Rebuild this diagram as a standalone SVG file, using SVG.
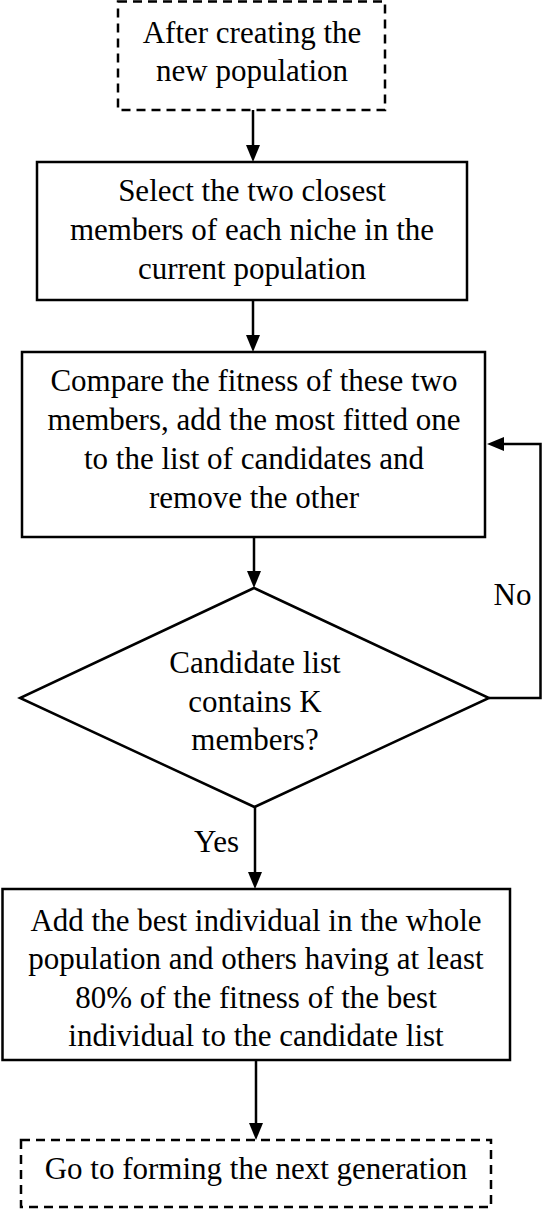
<svg xmlns="http://www.w3.org/2000/svg" width="543" height="1209" viewBox="0 0 543 1209">
<style>
.box{fill:#fff;stroke:#000;stroke-width:2.5}
.dash{fill:#fff;stroke:#000;stroke-width:2.5;stroke-dasharray:9 6}
.t{font-family:"Liberation Serif","Times New Roman",serif;font-size:31px;fill:#000;text-anchor:middle}
.c{fill:none;stroke:#000;stroke-width:2.5}
</style>
<defs>
<marker id="ah" markerUnits="userSpaceOnUse" markerWidth="17" markerHeight="14" refX="8" refY="7" orient="auto">
<path d="M0,0 L17,7 L0,14 Z" fill="#000"/>
</marker>
</defs>
<rect width="543" height="1209" fill="#fff"/>
<g id="connectors">
<line class="c" x1="253" y1="110" x2="253" y2="153" marker-end="url(#ah)"/>
<line class="c" x1="253" y1="300" x2="253" y2="343" marker-end="url(#ah)"/>
<line class="c" x1="254" y1="537" x2="254" y2="579" marker-end="url(#ah)"/>
<line class="c" x1="255" y1="807" x2="255" y2="880" marker-end="url(#ah)"/>
<line class="c" x1="256" y1="1060" x2="256" y2="1131" marker-end="url(#ah)"/>
<polyline class="c" points="489,698 540.5,698 540.5,444 496,444" marker-end="url(#ah)"/>
<text class="t" x="512.5" y="605">No</text>
<text class="t" x="216.5" y="852">Yes</text>
</g>
<g id="start">
<rect class="dash" x="118" y="1.5" width="267" height="108.5"/>
<text class="t" x="252" y="43">After creating the</text>
<text class="t" x="252" y="81">new population</text>
</g>
<g id="select">
<rect class="box" x="37" y="162" width="430" height="138"/>
<text class="t" x="252" y="201">Select the two closest</text>
<text class="t" x="252" y="240">members of each niche in the</text>
<text class="t" x="252" y="279">current population</text>
</g>
<g id="compare">
<rect class="box" x="22" y="352" width="463" height="185"/>
<text class="t" x="254" y="391">Compare the fitness of these two</text>
<text class="t" x="254" y="430">members, add the most fitted one</text>
<text class="t" x="254" y="469">to the list of candidates and</text>
<text class="t" x="254" y="508">remove the other</text>
</g>
<g id="decision">
<polygon class="box" points="254,588 489,698 254.5,807 20,698"/>
<text class="t" x="255" y="673">Candidate list</text>
<text class="t" x="255" y="711.5">contains K</text>
<text class="t" x="255" y="750">members?</text>
</g>
<g id="addbest">
<rect class="box" x="2.5" y="889" width="507.5" height="171"/>
<text class="t" x="256" y="930.5">Add the best individual in the whole</text>
<text class="t" x="256" y="969">population and others having at least</text>
<text class="t" x="256" y="1007.5">80% of the fitness of the best</text>
<text class="t" x="256" y="1046">individual to the candidate list</text>
</g>
<g id="end">
<rect class="dash" x="21" y="1140" width="470" height="67"/>
<text class="t" x="256" y="1179">Go to forming the next generation</text>
</g>
</svg>
